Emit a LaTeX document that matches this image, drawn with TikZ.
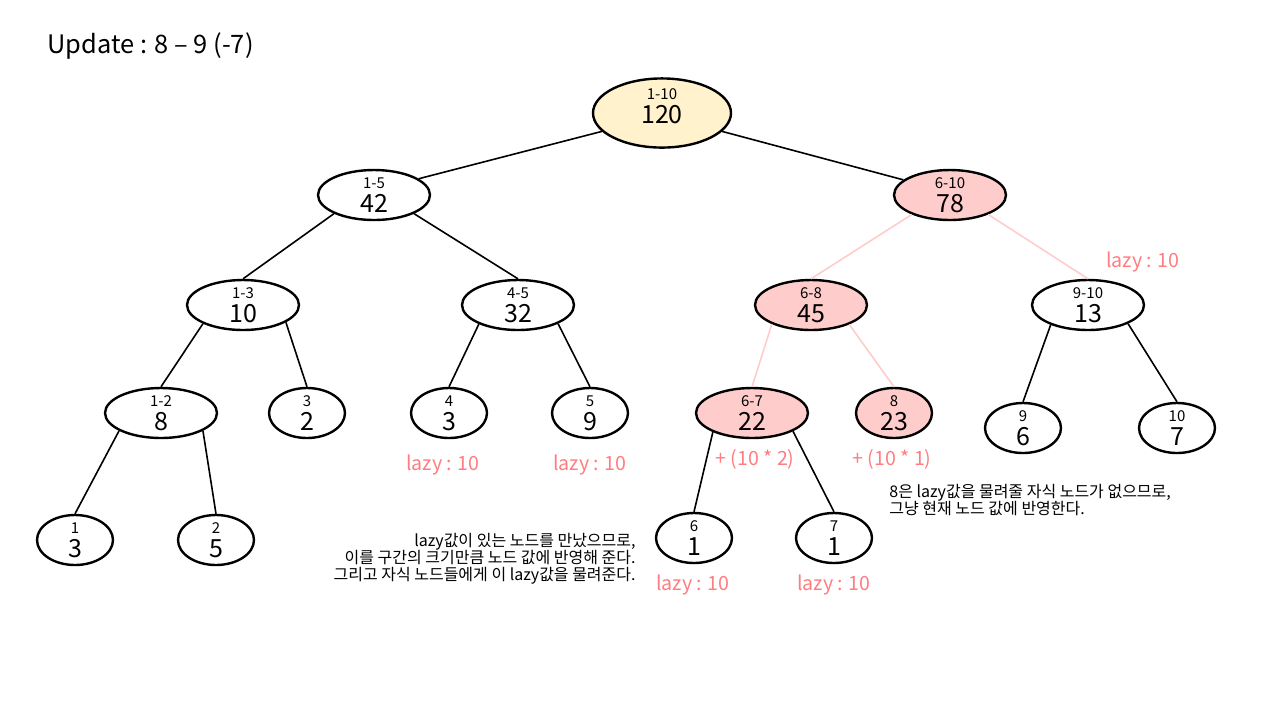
\documentclass[tikz,border=0pt]{standalone}
\usepackage{fontspec}
\setmainfont{Noto Sans CJK KR}
\usetikzlibrary{shapes.geometric}

\definecolor{rootfill}{RGB}{255,242,204}
\definecolor{hitfill}{RGB}{255,204,204}
\definecolor{hitline}{RGB}{255,204,204}
\definecolor{lazytext}{RGB}{255,124,128}

\newcommand{\seg}[2]{{\fontsize{7.5}{8}\selectfont #1}\\#2}

\begin{document}
\begin{tikzpicture}[
x=0.5pt,y=-0.5pt,
seg/.style={ellipse,draw=black,line width=1.2pt,fill=white,minimum width=56pt,minimum height=25pt,inner sep=0pt,align=center,font=\fontsize{12.5}{12}\selectfont},
leaf/.style={seg,minimum width=38pt},
hit/.style={fill=hitfill},
link/.style={draw=black,line width=0.8pt},
hitlink/.style={draw=hitline,line width=0.8pt},
lazy/.style={text=lazytext,inner sep=0pt,font=\fontsize{9.8}{10}\selectfont},
remark/.style={inner sep=0pt,font=\fontsize{8}{8.6}\selectfont}
]
\useasboundingbox (0,0) rectangle (1280,720);

\node[anchor=west,inner sep=0pt,font=\fontsize{12.7}{15}\selectfont] (title) at (47,46) {Update : 8 – 9 (-7)};

% segment tree
\node[seg,fill=rootfill,minimum width=69pt,minimum height=32pt,text depth=7pt] (n110) at (662,113) {\seg{1-10}{120}};
\node[seg] (n15) at (374,195) {\seg{1-5}{42}};
\node[seg,hit] (n610) at (950,195) {\seg{6-10}{78}};
\node[seg] (n13) at (243,305) {\seg{1-3}{10}};
\node[seg] (n45) at (518,305) {\seg{4-5}{32}};
\node[seg,hit] (n68) at (811,305) {\seg{6-8}{45}};
\node[seg] (n910) at (1088,305) {\seg{9-10}{13}};
\node[seg] (n12) at (161,413) {\seg{1-2}{8}};
\node[leaf] (n3) at (307,413) {\seg{3}{2}};
\node[leaf] (n4) at (449,413) {\seg{4}{3}};
\node[leaf] (n5) at (590,413) {\seg{5}{9}};
\node[seg,hit] (n67) at (752,413) {\seg{6-7}{22}};
\node[leaf,hit] (n8) at (894,413) {\seg{8}{23}};
\node[leaf] (n9) at (1023,428) {\seg{9}{6}};
\node[leaf] (n10) at (1177,428) {\seg{10}{7}};
\node[leaf] (n1) at (75,540) {\seg{1}{3}};
\node[leaf] (n2) at (216,540) {\seg{2}{5}};
\node[leaf] (n6) at (694,538) {\seg{6}{1}};
\node[leaf] (n7) at (834,538) {\seg{7}{1}};

\draw[link] (n110.197) -- (n15.20);
\draw[link] (n110.343) -- (n610.162);
\foreach \p/\c/\a in {n15/n13/205,n15/n45/335,n13/n12/205,n13/n3/338,n45/n4/206,n45/n5/335,
  n910/n9/208,n910/n10/335,n12/n1/203,n12/n2/337,n67/n6/206,n67/n7/336}
  \draw[link] (\p.\a) -- (\c.north);
\foreach \p/\c/\a in {n610/n68/207,n610/n910/333,n68/n67/206,n68/n8/333}
  \draw[hitlink] (\p.\a) -- (\c.north);

% lazy values
\node[lazy] (lz910) at (1143,262) {lazy : 10};
\node[lazy] (lz4) at (443,465) {lazy : 10};
\node[lazy] (lz5) at (590,465) {lazy : 10};
\node[lazy] (lz6) at (693,585) {lazy : 10};
\node[lazy] (lz7) at (834,585) {lazy : 10};
\node[lazy] (add67) at (755,459) {+ (10 * 2)};
\node[lazy] (add8) at (892,459) {+ (10 * 1)};

% notes
\node[remark,anchor=east,align=right] (note67) at (636,559) {lazy값이 있는 노드를 만났으므로,\\이를 구간의 크기만큼 노드 값에 반영해 준다.\\그리고 자식 노드들에게 이 lazy값을 물려준다.};
\node[remark,anchor=west,align=left] (note8) at (889,500) {8은 lazy값을 물려줄 자식 노드가 없으므로,\\그냥 현재 노드 값에 반영한다.};
\end{tikzpicture}
\end{document}
